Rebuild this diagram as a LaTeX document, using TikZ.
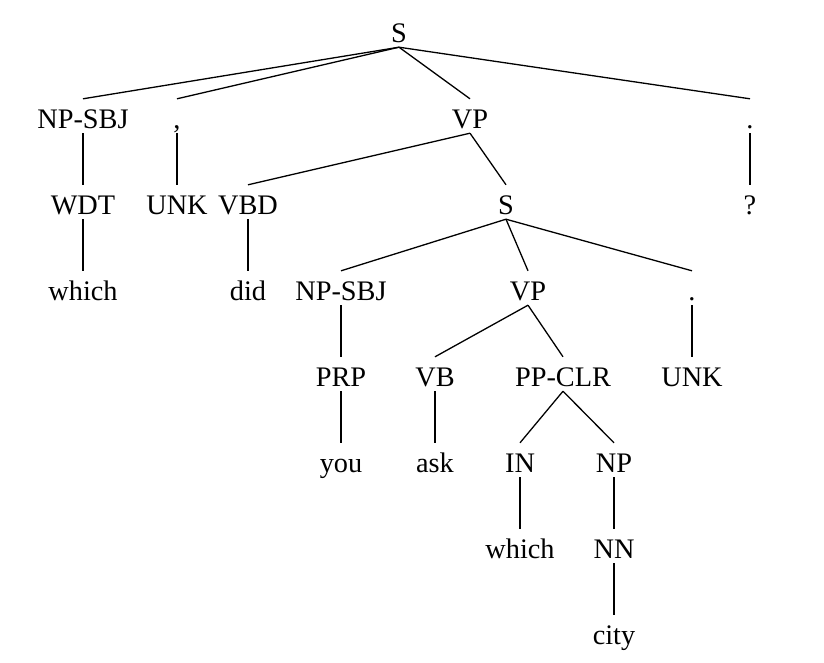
\documentclass[tikz,border=0pt]{standalone}
\usepackage{fontspec}
\setmainfont{Liberation Serif}
\begin{document}
\begin{tikzpicture}[x=1pt,y=-1pt,
  cat/.style={inner sep=0pt,text height=29pt,text depth=5pt,
    font=\fontsize{28.3}{34}\selectfont},
  branch/.style={line width=1.3pt}]
\useasboundingbox (0,0) rectangle (824,662);
% levels: centre y = 30 + 86*level
\node[cat] (s0)   at (399,30)  {S};
\node[cat] (np1)  at (83,116)  {NP-SBJ};
\node[cat] (cm)   at (177,116) {,};
\node[cat] (vp1)  at (470,116) {VP};
\node[cat] (pd1)  at (750,116) {.};
\node[cat] (wdt)  at (83,202)  {WDT};
\node[cat] (unk1) at (177,202) {UNK};
\node[cat] (vbd)  at (248,202) {VBD};
\node[cat] (s1)   at (506,202) {S};
\node[cat] (qm)   at (750,202) {?};
\node[cat] (wh1)  at (83,288)  {which};
\node[cat] (did)  at (248,288) {did};
\node[cat] (np2)  at (341,288) {NP-SBJ};
\node[cat] (vp2)  at (528,288) {VP};
\node[cat] (pd2)  at (692,288) {.};
\node[cat] (prp)  at (341,374) {PRP};
\node[cat] (vb)   at (435,374) {VB};
\node[cat] (pp)   at (563,374) {PP-CLR};
\node[cat] (unk2) at (692,374) {UNK};
\node[cat] (you)  at (341,460) {you};
\node[cat] (ask)  at (435,460) {ask};
\node[cat] (in)   at (520,460) {IN};
\node[cat] (np3)  at (614,460) {NP};
\node[cat] (wh2)  at (520,546) {which};
\node[cat] (nn)   at (614,546) {NN};
\node[cat] (city) at (614,632) {city};
\foreach \p/\c in {s0/np1,s0/cm,s0/vp1,s0/pd1,np1/wdt,cm/unk1,vp1/vbd,vp1/s1,
  pd1/qm,wdt/wh1,vbd/did,s1/np2,s1/vp2,s1/pd2,np2/prp,vp2/vb,vp2/pp,pd2/unk2,
  prp/you,vb/ask,pp/in,pp/np3,in/wh2,np3/nn,nn/city}
  \draw[branch] (\p.south) -- (\c.north);
\end{tikzpicture}
\end{document}
